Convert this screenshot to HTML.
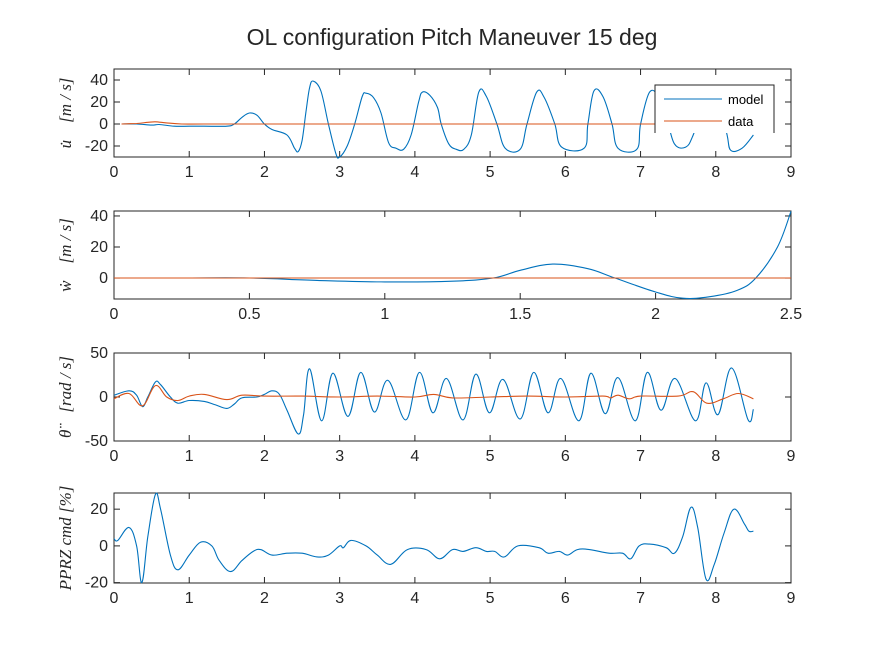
<!DOCTYPE html>
<html><head><meta charset="utf-8"><style>
body{margin:0;background:#fff;}
svg{display:block;font-family:"Liberation Sans",sans-serif;}
.tk{font-size:16px;fill:#262626;}
.yl{font-family:"Liberation Serif",serif;font-style:italic;font-size:17px;fill:#262626;white-space:pre;}
</style></head><body>
<svg id="fig" width="875" height="656" viewBox="0 0 875 656">
<rect width="875" height="656" fill="#fff"/>
<text x="452" y="45" text-anchor="middle" font-size="23" fill="#262626">OL configuration Pitch Maneuver 15 deg</text>
<g id="g1"></g>
<g id="g2"></g>
<g id="g3"></g>
<g id="g4"></g>
<text class="yl" transform="translate(71,113) rotate(-90)" text-anchor="middle">u̇    [m / s]</text>
<text class="yl" transform="translate(71,255) rotate(-90)" text-anchor="middle">ẇ    [m / s]</text>
<text class="yl" transform="translate(71,397) rotate(-90)" text-anchor="middle">θ̈    [rad / s]</text>
<text class="yl" transform="translate(71,538) rotate(-90)" text-anchor="middle">PPRZ cmd [%]</text>
<g>
<rect x="655" y="85" width="119" height="48" fill="#fff"/>
<path d="M655,133 V85 H774 V133" fill="none" stroke="#262626" stroke-width="1"/>
<line x1="664" y1="99" x2="722" y2="99" stroke="#0072BD" stroke-width="1"/>
<text x="728" y="104" font-size="13" fill="#000">model</text>
<line x1="664" y1="121" x2="722" y2="121" stroke="#D95319" stroke-width="1"/>
<text x="728" y="126" font-size="13" fill="#000">data</text>
</g>
</svg>
<script>
// Subplot 1: u-dot
const uModelT=[0.1,0.3,0.5,0.6,0.8,1.0,1.2,1.5,1.6,1.7,1.8,1.9,2.0,2.1,2.3,2.4,2.45,2.5,2.55,2.6,2.65,2.75,2.85,2.95,3.0,3.1,3.2,3.3,3.35,3.45,3.55,3.65,3.75,3.85,3.95,4.05,4.1,4.2,4.3,4.35,4.45,4.55,4.65,4.75,4.85,4.95,5.09,5.2,5.4,5.49,5.62,5.72,5.86,5.95,6.25,6.3,6.38,6.5,6.62,6.7,6.95,7.0,7.12,7.25,7.35,7.45,7.6,7.7,7.85,7.97,8.05,8.15,8.2,8.35,8.5];
const uModelV=[0,0,-1,-0.5,-2,-2,-2,-2,0,6,10,8,0,-5,-10,-22,-25,-15,10,33,39,30,0,-27,-30,-20,0,25,28,24,10,-17,-22,-23,-10,20,29,26,15,0,-18,-23,-23,-10,29,25,0,-22,-23,0,29,24,0,-21,-22,0,30,25,0,-22,-23,0,29,24,5,-18,-21,-10,20,30,20,-10,-24,-22,-10];
const uDataT=[0.1,0.3,0.45,0.55,0.7,0.9,1.2,2,3,4,5,6,7,7.2];
const uDataV=[0,0.5,1.5,2,1,0,0,0,0,0,0,0,0,0];
// Subplot 2: w-dot
const wModelT=[0,0.25,0.5,0.75,1.0,1.25,1.4,1.5,1.62,1.75,1.85,2.0,2.1,2.2,2.3,2.37,2.45,2.5];
const wModelV=[0,0,0,-1.5,-2.5,-2,0,5,9,6,0,-9,-13,-12,-8,0,20,43];
const wDataT=[0,0.5,1,1.5,2,2.5];
const wDataV=[0,0,0,0,0,0];
// Subplot 3: theta-ddot
const thModelT=[0,0.2,0.3,0.38,0.45,0.55,0.62,0.75,0.85,1.0,1.2,1.35,1.5,1.6,1.7,1.9,2.0,2.1,2.2,2.3,2.45,2.52,2.6,2.76,2.91,3.11,3.28,3.46,3.64,3.88,4.06,4.24,4.42,4.64,4.81,4.99,5.17,5.40,5.58,5.77,5.94,6.18,6.34,6.53,6.70,6.93,7.09,7.27,7.46,7.73,7.87,8.03,8.21,8.43,8.5];
const thModelV=[2,7,2,-11,0,17,14,0,-7,-4,-5,-9,-13,-8,-1,0,3,7,3,-15,-42,-20,32,-27,27,-22,28,-17,19,-26,28,-18,21,-26,26,-18,20,-25,28,-18,21,-27,27,-19,22,-27,28,-15,21,-27,16,-20,33,-26,-14];
const thDataT=[0,0.2,0.38,0.55,0.7,0.85,1.0,1.2,1.5,1.7,2.0,2.5,3.0,3.5,4.0,4.25,4.5,5.0,5.5,6.0,6.5,6.6,6.7,6.85,7.0,7.5,7.7,7.88,8.1,8.3,8.5];
const thDataV=[-2,4,-10,13,0,-4,1,3,-3,2,1,1,0,1,0,3,-1,0,1,0,1,-1,2,-2,1,1,6,-7,-2,4,-2];
// Subplot 4: PPRZ cmd
const pT=[0,0.05,0.2,0.3,0.37,0.45,0.55,0.62,0.75,0.85,1.0,1.15,1.3,1.4,1.55,1.7,1.85,1.95,2.1,2.3,2.5,2.7,2.85,3.0,3.05,3.15,3.35,3.5,3.68,3.9,4.15,4.33,4.5,4.64,4.81,4.95,5.06,5.19,5.37,5.65,5.77,5.92,6.03,6.16,6.32,6.58,6.76,6.87,6.98,7.12,7.34,7.45,7.56,7.67,7.76,7.87,7.98,8.11,8.24,8.38,8.44,8.5];
const pV=[4,3,10,0,-20,5,28,20,-5,-13,-5,2,0,-8,-14,-8,-3,-2,-5,-4,-4,-6,-5,0,-1,3,0,-5,-10,-2,-2,-7,-2,-3,-1,-3,-3,-6,0,-1,-4,-3,-5,-2,-2,-4,-4,-7,0,1,-1,-4,5,21,10,-18,-10,7,20,12,8,8];

const NS='http://www.w3.org/2000/svg';
const axesDefs=[
 {g:'g1',top:69,bot:157,x0:0,x1:9,y0:-30,y1:50,xt:[0,1,2,3,4,5,6,7,8,9],yt:[-20,0,20,40]},
 {g:'g2',top:211,bot:299,x0:0,x1:2.5,y0:-13.5,y1:43.2,xt:[0,0.5,1,1.5,2,2.5],yt:[0,20,40]},
 {g:'g3',top:353,bot:441,x0:0,x1:9,y0:-50,y1:50,xt:[0,1,2,3,4,5,6,7,8,9],yt:[-50,0,50]},
 {g:'g4',top:493,bot:583,x0:0,x1:9,y0:-20.2,y1:28.8,xt:[0,1,2,3,4,5,6,7,8,9],yt:[-20,0,20]}];
const L=114,R=791;
function mk(tag,attrs,parent){const e=document.createElementNS(NS,tag);for(const k in attrs)e.setAttribute(k,attrs[k]);parent.appendChild(e);return e;}
function setupAxes(d,name){
 const g=document.getElementById(d.g);
 d.sx=v=>L+(v-d.x0)/(d.x1-d.x0)*(R-L);
 d.sy=v=>d.bot-(v-d.y0)/(d.y1-d.y0)*(d.bot-d.top);
 const box=mk('rect',{x:L,y:d.top,width:R-L,height:d.bot-d.top,fill:'#fff',stroke:'#262626','stroke-width':1},g);
 
 
 d.xt.forEach(t=>{const x=d.sx(t);
  mk('line',{x1:x,y1:d.bot,x2:x,y2:d.bot-6,stroke:'#262626'},g);
  mk('line',{x1:x,y1:d.top,x2:x,y2:d.top+6,stroke:'#262626'},g);
  const tx=mk('text',{x:x,y:d.bot+20,'text-anchor':'middle',class:'tk'},g);tx.textContent=t;
  
  });
 d.yt.forEach(t=>{const y=d.sy(t);
  mk('line',{x1:L,y1:y,x2:L+6,y2:y,stroke:'#262626'},g);
  mk('line',{x1:R,y1:y,x2:R-6,y2:y,stroke:'#262626'},g);
  const tx=mk('text',{x:L-6,y:y+5,'text-anchor':'end',class:'tk'},g);tx.textContent=t;
  
  });
 return g;
}
function curve(d,g,T,V,color,name){
 const p=T.map((t,i)=>[d.sx(t),d.sy(V[i])]);
 let s='M'+p[0][0].toFixed(1)+','+p[0][1].toFixed(1);
 const k=0.18;
 for(let i=0;i<p.length-1;i++){
  const p0=p[Math.max(0,i-1)],p1=p[i],p2=p[i+1],p3=p[Math.min(p.length-1,i+2)];
  const c1=[p1[0]+(p2[0]-p0[0])*k,p1[1]+(p2[1]-p0[1])*k];
  const c2=[p2[0]-(p3[0]-p1[0])*k,p2[1]-(p3[1]-p1[1])*k];
  s+=' C'+c1.map(v=>v.toFixed(1)).join(',')+' '+c2.map(v=>v.toFixed(1)).join(',')+' '+p2.map(v=>v.toFixed(1)).join(',');
 }
 const e=mk('path',{d:s,fill:'none',stroke:color,'stroke-width':1.1},g);
 
 
}
const B='#0072BD',O='#D95319';
let g;
g=setupAxes(axesDefs[0],'u-dot');curve(axesDefs[0],g,uModelT,uModelV,B,'u-dot-model-line');curve(axesDefs[0],g,uDataT,uDataV,O,'u-dot-data-line');
g=setupAxes(axesDefs[1],'w-dot');curve(axesDefs[1],g,wModelT,wModelV,B,'w-dot-model-line');curve(axesDefs[1],g,wDataT,wDataV,O,'w-dot-data-line');
g=setupAxes(axesDefs[2],'theta-ddot');curve(axesDefs[2],g,thModelT,thModelV,B,'theta-ddot-model-line');curve(axesDefs[2],g,thDataT,thDataV,O,'theta-ddot-data-line');
g=setupAxes(axesDefs[3],'pprz-cmd');curve(axesDefs[3],g,pT,pV,B,'pprz-cmd-line');
</script>
</body></html>
